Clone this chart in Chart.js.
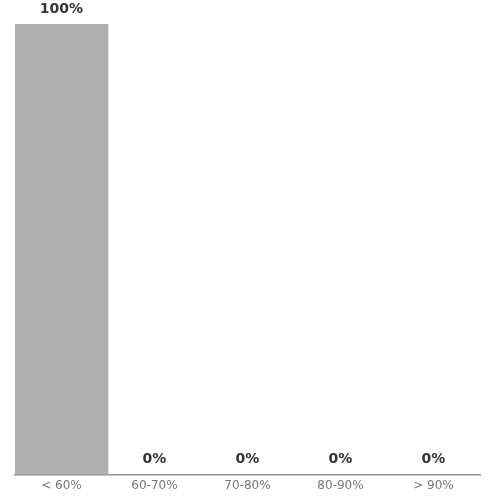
<!DOCTYPE html>
<html><head><meta charset="utf-8">
<script src="https://cdn.jsdelivr.net/npm/chart.js@4/dist/chart.umd.min.js"></script>
<style>html,body{margin:0;padding:0;background:#fff}#wrap{width:500px;height:500px}</style>
</head><body><div id="wrap"><canvas id="c"></canvas></div>
<script>
const categories = ['< 60%', '60-70%', '70-80%', '80-90%', '> 90%'];
const values = [100, 0, 0, 0, 0];
const valueLabels = ['100%', '0%', '0%', '0%', '0%'];

const labelPlugin = {
  id: 'valLabels',
  afterDatasetsDraw(chart) {
    const ctx = chart.ctx;
    const meta = chart.getDatasetMeta(0);
    ctx.save();
    ctx.font = 'bold 14px "DejaVu Sans"';
    ctx.fillStyle = '#333333';
    ctx.textAlign = 'center';
    ctx.textBaseline = 'bottom';
    meta.data.forEach((bar, i) => {
      ctx.fillText(valueLabels[i], bar.x, bar.y - 8);
    });
    ctx.restore();
  }
};

new Chart(document.getElementById('c'), {
  type: 'bar',
  data: {
    labels: categories,
    datasets: [{
      data: values,
      backgroundColor: '#b0b0b0',
      borderWidth: 0,
      categoryPercentage: 1.0,
      barPercentage: 1.0
    }]
  },
  options: {
    responsive: true,
    maintainAspectRatio: false,
    animation: false,
    layout: { padding: { left: 15, right: 20, top: 24, bottom: 3 } },
    plugins: { legend: { display: false }, tooltip: { enabled: false } },
    scales: {
      x: {
        grid: { display: false, drawTicks: false },
        border: { display: true, color: '#888888', width: 1.5 },
        ticks: { color: '#777777', font: { family: 'DejaVu Sans', size: 12 }, padding: 4 }
      },
      y: { display: false, min: 0, max: 100 }
    }
  },
  plugins: [labelPlugin]
});
</script></body></html>
